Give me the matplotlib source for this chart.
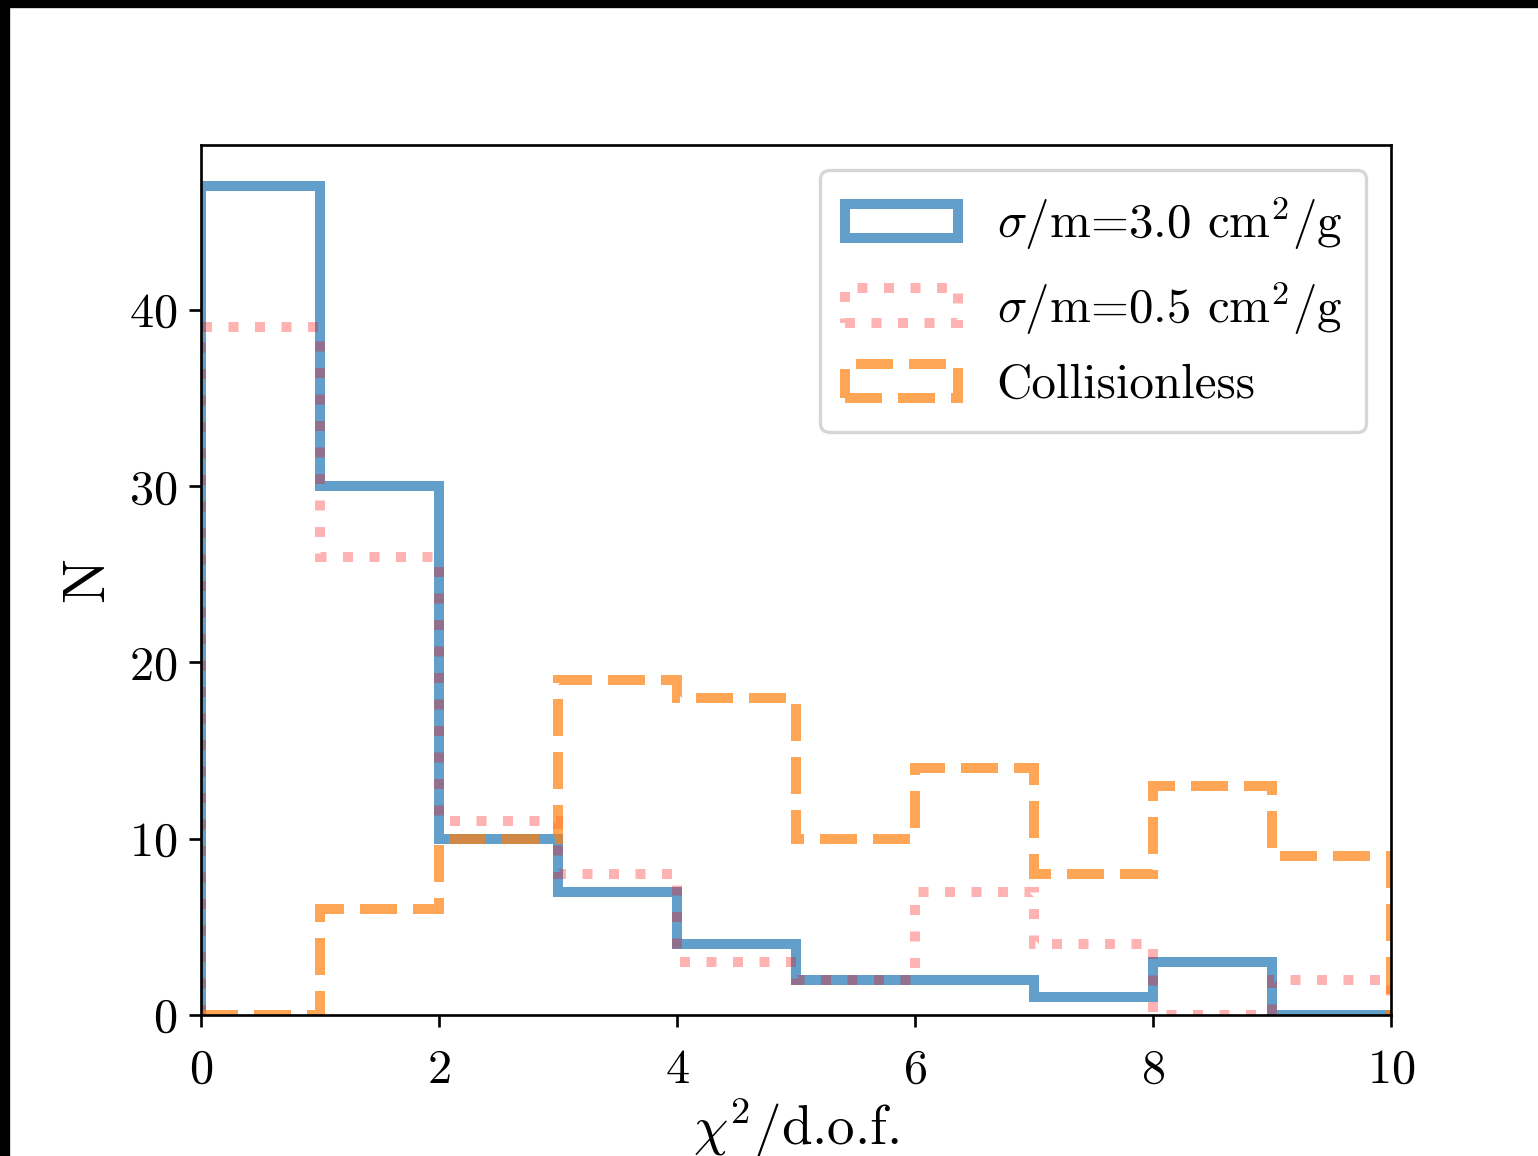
import matplotlib
matplotlib.use("Agg")
import matplotlib.pyplot as plt
from matplotlib.patches import Rectangle
import numpy as np

plt.rcParams['font.family'] = 'serif'
plt.rcParams['font.serif'] = ['cmr10']
plt.rcParams['mathtext.fontset'] = 'cm'
plt.rcParams['axes.formatter.use_mathtext'] = True
plt.rcParams['axes.unicode_minus'] = False

bin_edges = [0, 1, 2, 3, 4, 5, 6, 7, 8, 9, 10]
counts_30 = [47, 30, 10, 7, 4, 2, 2, 1, 3, 0]
counts_05 = [39, 26, 11, 8, 3, 2, 7, 4, 0, 2]
counts_cdm = [0, 6, 10, 19, 18, 10, 14, 8, 13, 9]
labels = [r'$\sigma/$m=3.0 cm$^2/$g', r'$\sigma/$m=0.5 cm$^2/$g', 'Collisionless']

W, H, DPI = 1538, 1156, 240
fig = plt.figure(figsize=(W / DPI, H / DPI), dpi=DPI)
ax = fig.add_axes([201 / W, (H - 1015) / H, (1391 - 201) / W, (1015 - 145) / H])

centers = 0.5 * (np.array(bin_edges[:-1]) + np.array(bin_edges[1:]))
ax.hist(centers, bins=bin_edges, weights=counts_30, histtype='step', lw=3,
        color='C0', alpha=0.7, label=labels[0])
ax.hist(centers, bins=bin_edges, weights=counts_05, histtype='step', lw=3,
        color='red', alpha=0.3, linestyle=':', label=labels[1])
ax.hist(centers, bins=bin_edges, weights=counts_cdm, histtype='step', lw=3,
        color='C1', alpha=0.7, linestyle='--', label=labels[2])

ax.set_xlim(0, 10)
ax.set_ylim(0, 49.35)
ax.set_xticks([0, 2, 4, 6, 8, 10])
ax.set_yticks([0, 10, 20, 30, 40])
ax.tick_params(labelsize=14.5)
ax.tick_params(axis='x', pad=6.5)
ax.set_xlabel(r'$\chi^2/$d.o.f.', fontsize=16.5, labelpad=1)
ax.set_ylabel('N', fontsize=18, labelpad=4.2)
ax.legend(loc='upper right', fontsize=14.7, handlelength=2.3, labelspacing=0.55,
          borderpad=0.5)

# black border strips as in the reference crop
fig.patches.append(Rectangle((0, 1 - 6 / H), 1, 6 / H, transform=fig.transFigure,
                             color='black', zorder=10))
fig.patches.append(Rectangle((0, 0), 8 / W, 1, transform=fig.transFigure,
                             color='black', zorder=10))

fig.savefig('out.png', dpi=DPI)
